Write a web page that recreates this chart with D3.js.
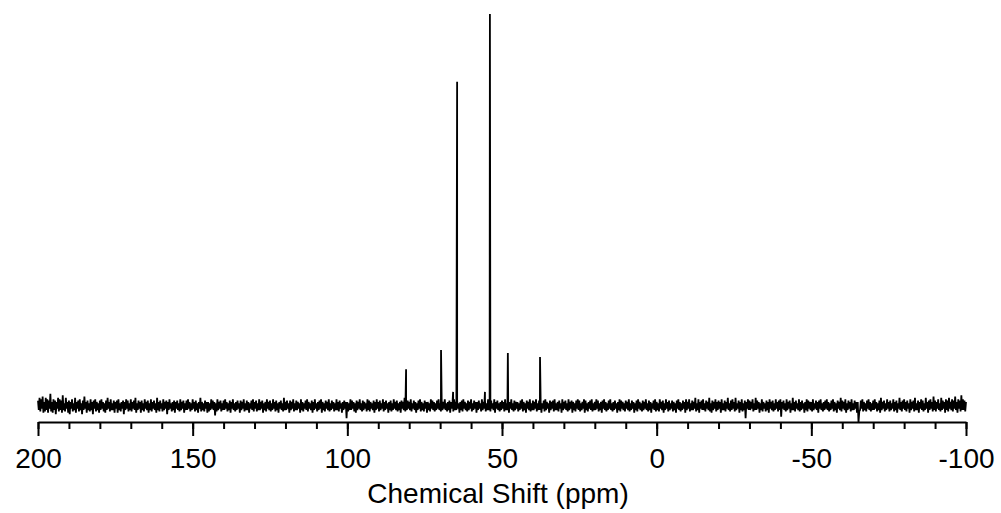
<!DOCTYPE html>
<html>
<head>
<meta charset="utf-8">
<script src="https://cdn.jsdelivr.net/npm/d3@7"></script>
<style>
  body { margin: 0; background: #fff; }
  svg { display: block; font-family: "Liberation Sans", Arial, sans-serif; }
</style>
</head>
<body>
<div id="chart"></div>
<script>
// spectrum: baseline noise on a 0.25 ppm grid from 200 down to -100 (units ~ 1/300 of tallest peak)
let gridStart = 200;
let gridStep = 0.25;
let noise = [
  4,-3,6,-4,5,-2,7,-5,3,-4,6,-3,5,-5,4,-2,9,-4,3,-5,
  5,-3,4,-6,3,-2,6,-4,5,-3,4,-5,8,-3,2,-4,6,-2,3,-5,
  4,-6,3,-2,5,-4,2,-3,6,-5,3,-2,4,-4,5,-3,2,-6,4,-3,
  7,-2,3,-5,4,-3,2,-4,5,-3,3,-6,4,-2,5,-4,3,-3,2,-5,
  4,-3,5,-2,3,-4,2,-5,4,-3,6,-2,3,-4,5,-3,2,-3,4,-5,
  3,-2,4,-5,5,-3,2,-4,3,-2,4,-6,3,-3,5,-2,4,-4,2,-3,
  5,-4,3,-2,4,-3,6,-5,2,-3,4,-2,3,-5,4,-3,2,-4,5,-2,
  3,-3,4,-5,2,-3,5,-4,3,-2,4,-3,2,-5,6,-3,3,-4,4,-2,
  2,-4,5,-3,3,-2,4,-6,3,-3,5,-2,2,-4,3,-3,4,-5,3,-2,
  4,-3,2,-4,5,-3,3,-2,4,-5,2,-3,4,-3,5,-2,3,-4,2,-3,
  5,-2,3,-4,4,-3,2,-5,3,-2,6,-4,3,-3,2,-4,4,-2,3,-5,
  3,-4,2,-3,5,-2,4,-3,3,-7,2,-4,5,-3,3,-2,4,-4,2,-3,
  4,-3,5,-2,3,-4,2,-3,4,-5,3,-2,5,-3,2,-4,3,-3,4,-2,
  2,-5,4,-3,3,-2,5,-4,2,-3,4,-3,3,-5,2,-2,4,-3,5,-4,
  3,-2,4,-4,2,-3,5,-3,3,-2,4,-5,2,-3,3,-4,5,-2,3,-3,
  4,-4,2,-3,5,-2,3,-4,4,-3,2,-5,3,-2,4,-3,2,-4,6,-3,
  3,-3,4,-2,2,-5,4,-3,3,-2,5,-4,2,-3,4,-3,3,-2,2,-5,
  5,-3,3,-4,2,-2,4,-3,5,-4,3,-2,2,-3,4,-5,3,-3,5,-2,
  2,-4,3,-3,4,-2,5,-5,3,-3,2,-4,4,-2,3,-3,5,-4,2,-3,
  4,-2,3,-4,2,-3,5,-3,3,-4,4,-2,2,-5,3,-3,4,-2,3,-9,
  3,-4,2,-3,5,-3,4,-2,3,-4,2,-5,4,-3,3,-2,5,-3,2,-4,
  4,-3,3,-2,2,-4,5,-3,4,-4,3,-2,2,-3,4,-5,3,-3,5,-2,
  3,-4,4,-3,2,-2,5,-4,3,-3,4,-2,2,-5,3,-3,4,-4,2,-3,
  5,-2,3,-3,4,-4,2,-3,3,-5,4,-2,3,-3,6,-4,2,-3,4,-2,
  3,-3,5,-4,2,-2,4,-3,3,-5,2,-3,4,-2,5,-4,3,-3,2,-4,
  4,-2,3,-5,3,-3,2,-4,5,-2,4,-3,3,-4,2,-3,4,-2,5,-3,
  2,-4,4,-3,3,-2,5,-3,2,-4,3,-3,4,-5,3,-2,2,-4,5,-3,
  3,-3,4,-2,2,-5,3,-3,4,-4,5,-2,3,-3,2,-4,4,-3,3,-2,
  5,-4,2,-3,4,-2,3,-5,3,-3,4,-2,2,-4,5,-3,3,-2,4,-4,
  2,-3,5,-3,3,-4,4,-2,2,-3,5,-5,3,-2,4,-3,2,-4,3,-3,
  4,-2,3,-4,5,-3,2,-3,4,-5,3,-2,5,-3,2,-4,4,-3,3,-2,
  3,-4,2,-3,4,-2,5,-4,3,-3,2,-5,4,-2,3,-3,5,-4,2,-3,
  4,-3,3,-2,5,-4,2,-3,4,-3,3,-5,2,-2,4,-4,5,-3,3,-2,
  2,-5,4,-3,3,-2,4,-4,5,-3,2,-3,3,-4,4,-2,2,-5,5,-3,
  3,-2,4,-3,2,-4,5,-3,3,-2,4,-5,3,-3,2,-4,4,-2,5,-3,
  4,-4,2,-3,3,-2,5,-5,4,-3,2,-4,3,-2,4,-3,5,-4,2,-3,
  3,-3,5,-2,4,-4,2,-3,3,-5,4,-2,5,-3,3,-4,2,-3,4,-2,
  5,-3,2,-4,3,-3,4,-2,2,-5,3,-3,5,-4,4,-2,3,-3,2,-4,
  4,-2,3,-3,5,-4,2,-3,4,-2,3,-5,2,-3,4,-4,5,-2,3,-3,
  2,-4,4,-3,3,-2,5,-3,2,-4,4,-3,3,-5,2,-2,4,-3,5,-4,
  3,-3,2,-4,5,-2,3,-3,4,-5,2,-3,5,-2,3,-4,4,-3,2,-2,
  4,-4,3,-3,2,-5,4,-2,5,-3,3,-4,2,-3,4,-2,3,-5,5,-3,
  3,-2,5,-4,2,-3,4,-3,3,-2,6,-4,2,-3,5,-5,3,-2,4,-3,
  5,-3,2,-4,4,-2,3,-3,6,-4,2,-5,4,-3,3,-2,5,-4,3,-3,
  4,-2,3,-5,5,-3,2,-3,4,-4,3,-2,6,-3,2,-4,4,-3,5,-2,
  3,-4,6,-3,2,-2,4,-5,3,-3,5,-4,2,-3,4,-9,3,-2,5,-3,
  4,-3,3,-2,5,-4,2,-3,6,-3,4,-2,3,-5,2,-3,5,-4,3,-2,
  2,-4,4,-3,3,-5,5,-2,3,-3,4,-4,2,-3,5,-2,3,-4,4,-3,
  5,-8,3,-2,4,-3,2,-4,5,-3,3,-2,4,-5,2,-3,6,-3,3,-4,
  4,-2,2,-3,5,-4,3,-3,4,-2,2,-5,3,-3,5,-4,4,-2,3,-3,
  3,-4,5,-3,2,-2,4,-3,3,-5,4,-2,5,-3,2,-4,3,-3,4,-2,
  5,-3,3,-4,2,-3,4,-2,5,-4,3,-3,2,-5,4,-2,3,-3,6,-4,
  4,-2,3,-3,5,-5,2,-3,4,-2,3,-4,5,-3,2,-3,4,-2,3,-5,
  3,-12,-4,-3,4,-2,5,-4,3,-3,2,-4,4,-2,5,-3,3,-4,2,-3,
  4,-3,5,-2,3,-4,2,-3,4,-5,6,-3,3,-2,4,-4,2,-3,5,-2,
  3,-4,4,-3,2,-2,5,-4,3,-3,4,-5,2,-2,6,-3,3,-4,4,-2,
  5,-3,3,-4,4,-2,2,-5,5,-3,3,-2,4,-4,6,-3,2,-3,4,-5,
  3,-2,5,-3,4,-4,2,-3,6,-2,3,-5,4,-3,5,-2,3,-4,7,-3,
  4,-4,3,-2,5,-3,2,-4,6,-3,4,-2,3,-5,5,-3,4,-4,6,-2,
  3,-3,5,-4,4,-2,7,-3,3,-5,5,-2,4,-4,8,-3,5,-3,4,-4,
  3
];
let noiseUnit = 1.35 / 392;

// peaks (ppm, relative intensity)
let peakPpm = [81.0, 69.7, 65.8, 64.5, 55.5, 53.9, 48.1, 37.7];
let peakHeight = [0.094, 0.143, 0.036, 0.827, 0.036, 1.0, 0.135, 0.125];

let majorTicks = [200, 150, 100, 50, 0, -50, -100];
let minorTicks = d3.range(200, -101, -10);
let xTitle = 'Chemical Shift (ppm)';

let w = 1001, h = 513;

let svg = d3.select('#chart').
append('svg').
attr('width', w).
attr('height', h);

let x = d3.scaleLinear().domain([200, -100]).range([38, 966]);
let y = d3.scaleLinear().domain([0, 1]).range([406, 14]);

let points = noise.map((v, i) => ({ ppm: gridStart - i * gridStep, val: v * noiseUnit }));
peakPpm.forEach((p, i) => points.push({ ppm: p + 0.01, val: peakHeight[i] }));
points.sort((a, b) => b.ppm - a.ppm);

let line = d3.line().
x(d => x(d.ppm)).
y(d => y(d.val));

svg.append('path').
datum(points).
attr('d', line).
attr('fill', 'none').
attr('stroke', '#000').
attr('stroke-width', 1.8).
attr('stroke-linejoin', 'miter');

let axisY = 422;

// minor ticks
svg.append('g').
attr('transform', 'translate(0,' + axisY + ')').
call(d3.axisBottom(x).tickValues(minorTicks).tickSize(7).tickSizeOuter(0).tickFormat('')).
call(g => g.select('.domain').remove()).
call(g => g.selectAll('line').attr('stroke-width', 2));

// major ticks with labels
let xAxis = svg.append('g').
attr('transform', 'translate(0,' + axisY + ')').
call(d3.axisBottom(x).tickValues(majorTicks).tickSize(14).tickSizeOuter(0).tickPadding(12).tickFormat(d3.format('d')));

xAxis.select('.domain').attr('stroke-width', 2);
xAxis.selectAll('line').attr('stroke-width', 2);
xAxis.selectAll('text').
style('font-size', '28px').
style('font-family', '"Liberation Sans", Arial, sans-serif').
attr('fill', '#000').
text(d => d < 0 ? '-' + Math.abs(d) : d);

svg.append('text').
attr('x', 498).
attr('y', 503).
attr('text-anchor', 'middle').
style('font-size', '28px').
text(xTitle);
</script>
</body>
</html>
